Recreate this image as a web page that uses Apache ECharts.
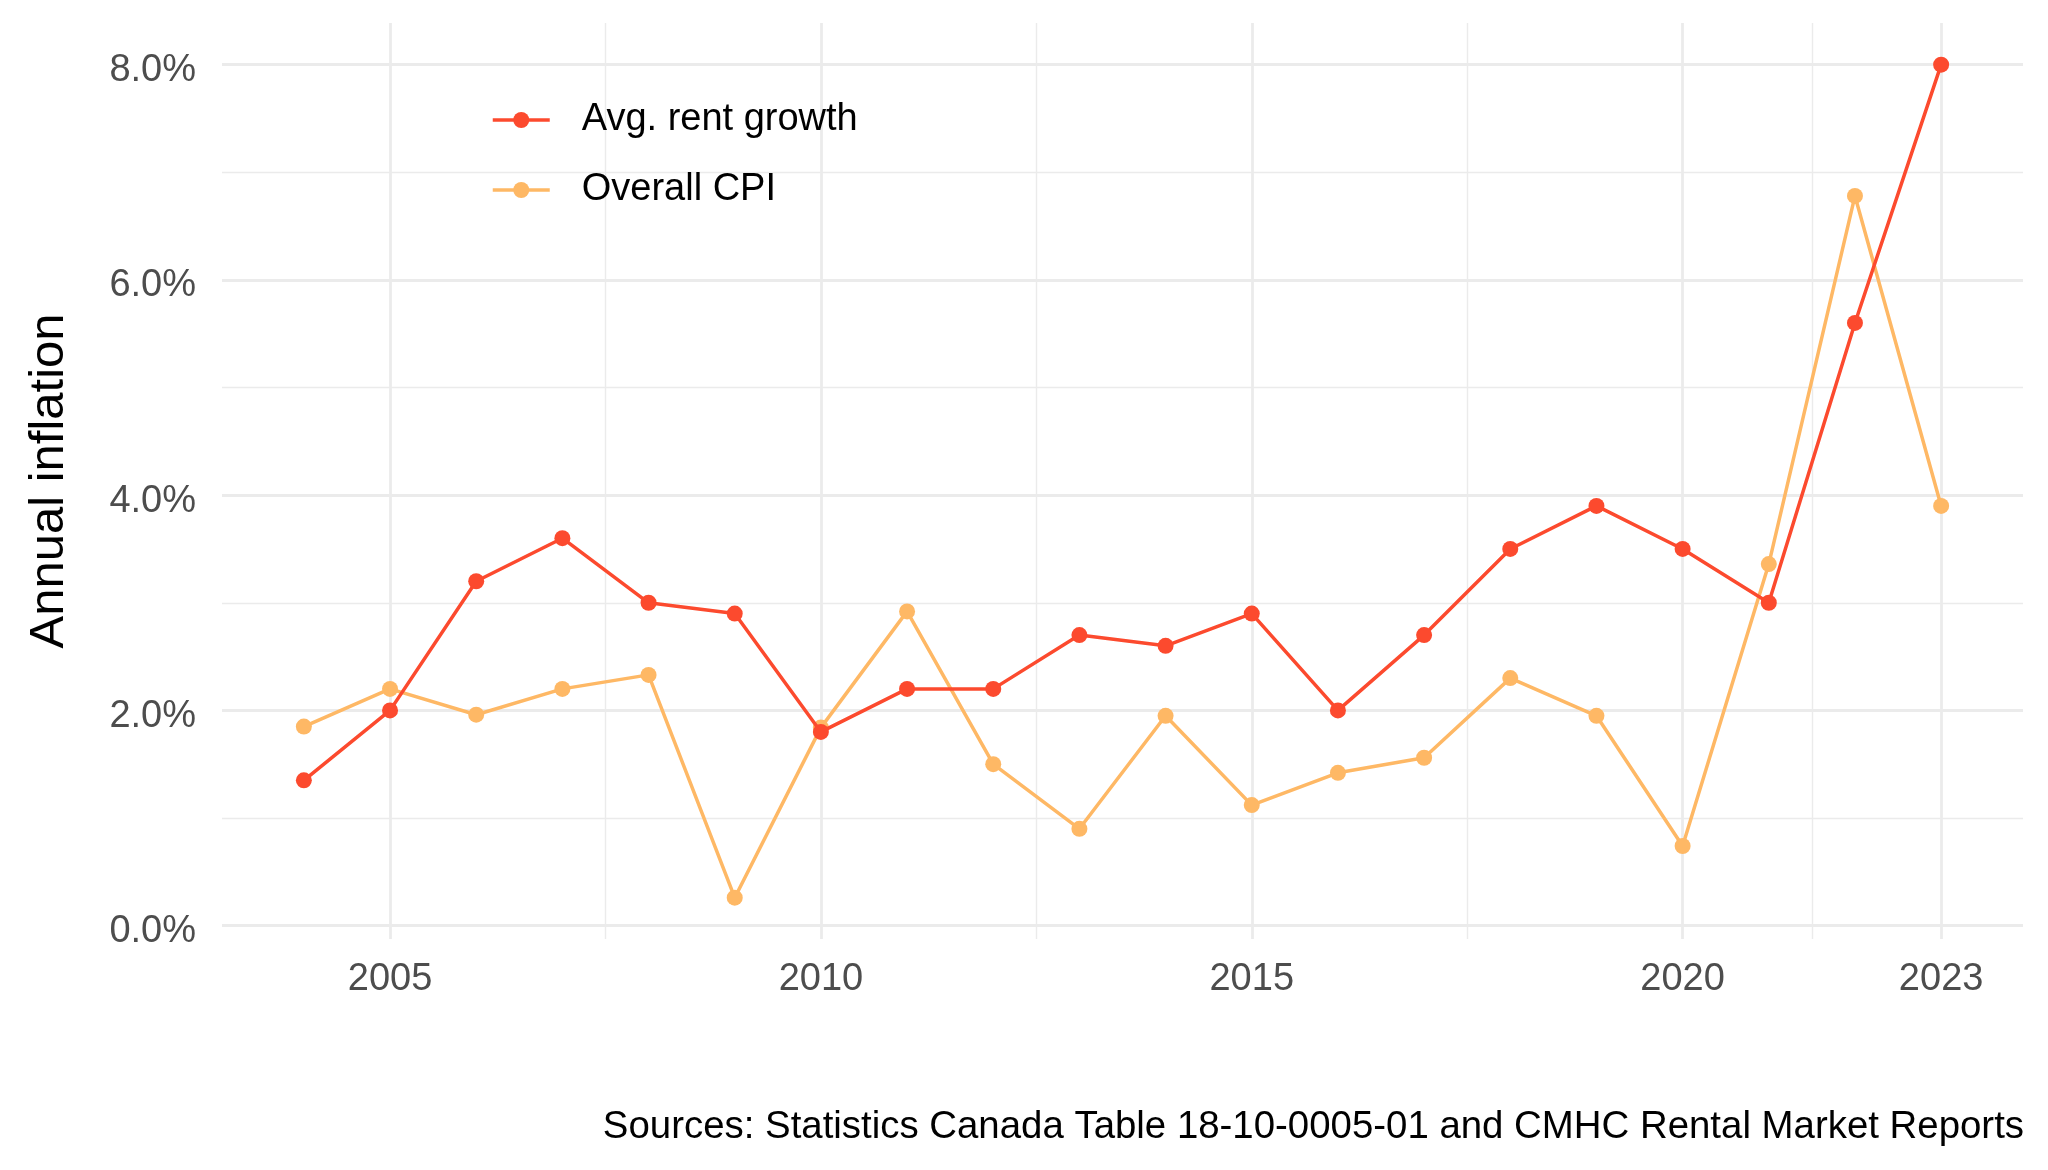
<!DOCTYPE html>
<html>
<head>
<meta charset="utf-8">
<script src="https://cdn.jsdelivr.net/npm/echarts@6/dist/echarts.min.js"></script>
<style>
  html, body { margin: 0; padding: 0; background: #ffffff; }
  #chart { width: 2048px; height: 1170px; }
</style>
</head>
<body>
<div id="chart"></div>
<script>
// ---- data ----
const years = [2004, 2005, 2006, 2007, 2008, 2009, 2010, 2011, 2012, 2013, 2014, 2015, 2016, 2017, 2018, 2019, 2020, 2021, 2022, 2023];
const rentGrowth = [1.35, 2.0, 3.2, 3.6, 3.0, 2.9, 1.8, 2.2, 2.2, 2.7, 2.6, 2.9, 2.0, 2.7, 3.5, 3.9, 3.5, 3.0, 5.6, 8.0];
const overallCPI = [1.85, 2.20, 1.96, 2.20, 2.33, 0.26, 1.84, 2.92, 1.50, 0.90, 1.95, 1.12, 1.42, 1.56, 2.30, 1.95, 0.74, 3.36, 6.78, 3.90];
const xMajorTicks = [2005, 2010, 2015, 2020, 2023];
const xMinorTicks = [2007.5, 2012.5, 2017.5, 2021.5];
const yMajorTicks = [0, 2, 4, 6, 8];
const yMinorTicks = [1, 3, 5, 7];
const seriesNames = ['Avg. rent growth', 'Overall CPI'];
const yTitle = 'Annual inflation';
const caption = 'Sources: Statistics Canada Table 18-10-0005-01 and CMHC Rental Market Reports';

const toPairs = (vals) => years.map((y, i) => [y, vals[i]]);

const gridColor = '#ebebeb';
const xRange = [2003.05, 2023.95];
const yRange = [-0.124, 8.387];
const fontFam = '"Liberation Sans", Arial, sans-serif';
const rentColor = '#FC4A2E';
const cpiColor = '#FEB865';

const chart = echarts.init(document.getElementById('chart'), null, { renderer: 'canvas' });
chart.setOption({
  animation: false,
  backgroundColor: '#ffffff',
  textStyle: { fontFamily: fontFam },
  grid: { left: 222, right: 25, top: 23, bottom: 231, containLabel: false },
  legend: {
    data: seriesNames,
    orient: 'vertical',
    left: 491,
    top: 98,
    padding: 0,
    itemWidth: 57,
    itemHeight: 20,
    itemGap: 26,
    lineStyle: { width: 3.5 },
    textStyle: { fontSize: 38, color: '#000000', fontFamily: fontFam, lineHeight: 40, padding: [4, 0, 0, 27] }
  },
  xAxis: [
    {
      type: 'value', min: xRange[0], max: xRange[1],
      axisLine: { show: false },
      axisTick: { show: false, customValues: xMajorTicks },
      axisLabel: { customValues: xMajorTicks, fontSize: 38, color: '#4d4d4d', margin: 22, fontFamily: fontFam,
                   formatter: (v) => String(v) },
      splitLine: { show: true, lineStyle: { color: gridColor, width: 2.8 } }
    },
    {
      type: 'value', min: xRange[0], max: xRange[1], gridIndex: 0, position: 'bottom',
      axisLine: { show: false },
      axisTick: { show: false, customValues: xMinorTicks },
      axisLabel: { show: false, customValues: xMinorTicks },
      splitLine: { show: true, lineStyle: { color: gridColor, width: 1.4 } }
    }
  ],
  yAxis: [
    {
      type: 'value', min: yRange[0], max: yRange[1],
      name: yTitle, nameLocation: 'middle', nameRotate: 90, nameGap: 148,
      nameTextStyle: { fontSize: 49, color: '#000000', fontFamily: fontFam },
      axisLine: { show: false },
      axisTick: { show: false, customValues: yMajorTicks },
      axisLabel: { customValues: yMajorTicks, fontSize: 38, color: '#4d4d4d', margin: 26, fontFamily: fontFam,
                   verticalAlign: 'top', lineHeight: 12,
                   formatter: (v) => v.toFixed(1) + '%' },
      splitLine: { show: true, lineStyle: { color: gridColor, width: 2.8 } }
    },
    {
      type: 'value', min: yRange[0], max: yRange[1], gridIndex: 0, position: 'left',
      axisLine: { show: false },
      axisTick: { show: false, customValues: yMinorTicks },
      axisLabel: { show: false, customValues: yMinorTicks },
      splitLine: { show: true, lineStyle: { color: gridColor, width: 1.4 } }
    }
  ],
  graphic: [
    {
      type: 'text', right: 24, top: 1108,
      style: { text: caption, fontSize: 38.4, fill: '#000000', fontFamily: fontFam }
    }
  ],
  series: [
    {
      name: seriesNames[1], type: 'line', xAxisIndex: 0, yAxisIndex: 0,
      data: toPairs(overallCPI),
      symbol: 'circle', symbolSize: 16, showSymbol: true,
      itemStyle: { color: cpiColor },
      lineStyle: { color: cpiColor, width: 3.5 },
      z: 3
    },
    {
      name: seriesNames[0], type: 'line', xAxisIndex: 0, yAxisIndex: 0,
      data: toPairs(rentGrowth),
      symbol: 'circle', symbolSize: 16, showSymbol: true,
      itemStyle: { color: rentColor },
      lineStyle: { color: rentColor, width: 3.5 },
      z: 4
    }
  ]
});
</script>
</body>
</html>
